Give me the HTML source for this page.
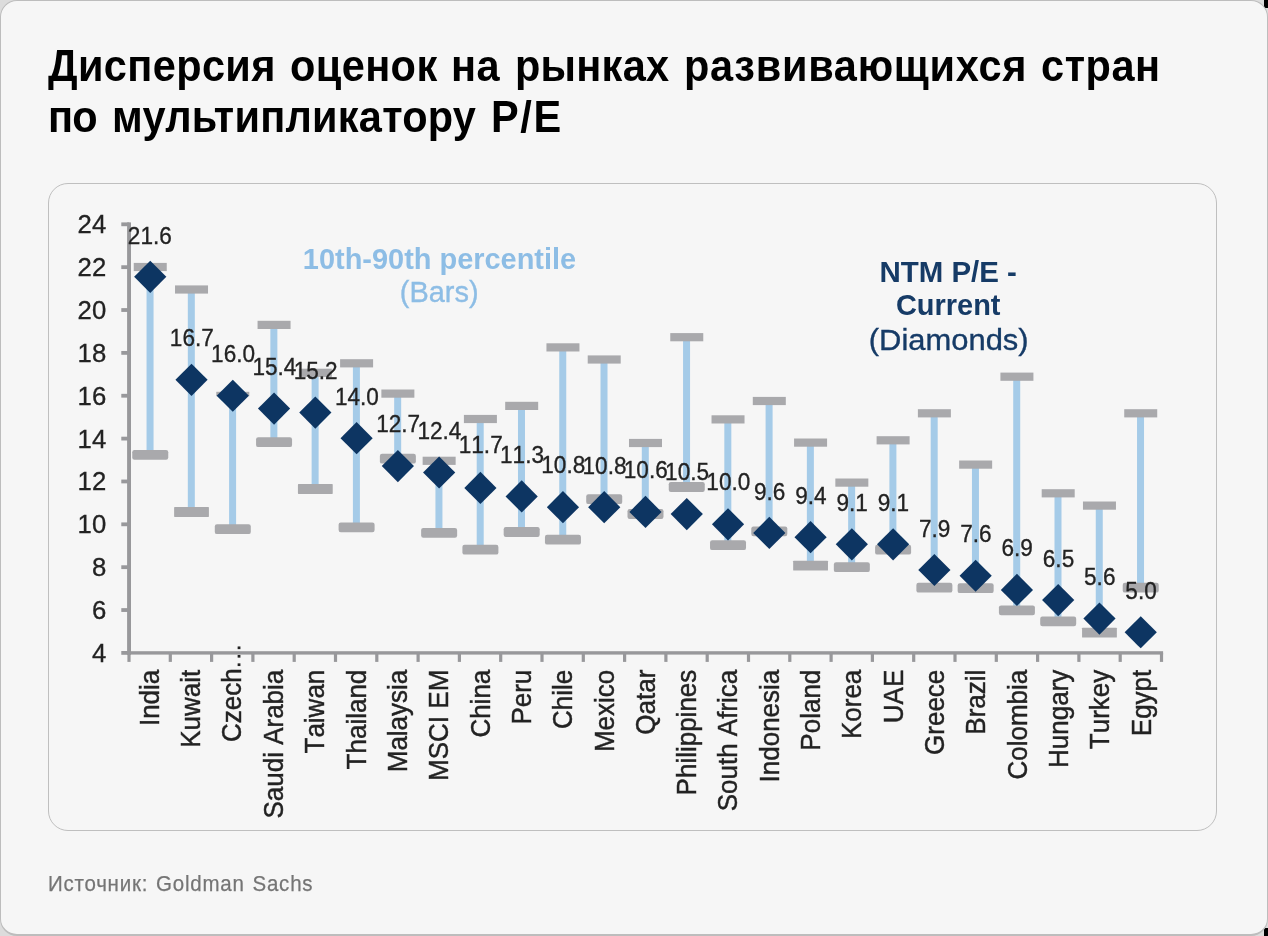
<!DOCTYPE html>
<html><head><meta charset="utf-8"><title>chart</title>
<style>
html,body{margin:0;padding:0;}
body{width:1268px;height:936px;background:#dcdcdc;position:relative;overflow:hidden;font-family:"Liberation Sans",sans-serif;}
.blk{position:absolute;background:#000;}
.card{position:absolute;left:0;top:0;width:1268px;height:936px;box-sizing:border-box;border:1.5px solid #bdbdbd;border-width:1.2px 1.2px 2.4px 1.5px;border-radius:17px;background:#f6f6f6;}
.panel{position:absolute;left:48px;top:183px;width:1169px;height:648px;box-sizing:border-box;border:1px solid #bfbfbf;border-radius:20px;}
.title{position:absolute;top:0;filter:blur(0.4px);margin:0;font-weight:bold;color:#000;white-space:nowrap;transform-origin:0 0;}
.src{position:absolute;left:48px;filter:blur(0.35px);margin:0;color:#757575;white-space:nowrap;transform-origin:0 0;}
</style></head><body>
<div class="blk" style="left:1264px;top:0;width:4px;height:8px"></div>
<div class="blk" style="left:1264px;top:928px;width:4px;height:8px"></div>
<div class="card"></div>
<div class="panel"></div>
<div class="title" style="left:48.3px;top:39.6px;font-size:43.6px;line-height:52px;letter-spacing:0.401px;transform:scaleX(0.9518)">Дисперсия</div>
<div class="title" style="left:289.6px;top:39.6px;font-size:43.6px;line-height:52px;letter-spacing:0.429px;transform:scaleX(0.9518)">оценок</div>
<div class="title" style="left:451px;top:39.6px;font-size:43.6px;line-height:52px;letter-spacing:0.351px;transform:scaleX(0.9518)">на</div>
<div class="title" style="left:515.2px;top:39.6px;font-size:43.6px;line-height:52px;letter-spacing:0.271px;transform:scaleX(0.9518)">рынках</div>
<div class="title" style="left:684.4px;top:39.6px;font-size:43.6px;line-height:52px;letter-spacing:0.759px;transform:scaleX(0.9518)">развивающихся</div>
<div class="title" style="left:1040.7px;top:39.6px;font-size:43.6px;line-height:52px;letter-spacing:0.595px;transform:scaleX(0.9518)">стран</div>
<div class="title" style="left:48.1px;top:90.8px;font-size:43.6px;line-height:52px;letter-spacing:-0.840px;transform:scaleX(0.9518)">по</div>
<div class="title" style="left:111.7px;top:90.8px;font-size:43.6px;line-height:52px;letter-spacing:0.257px;transform:scaleX(0.9518)">мультипликатору</div>
<div class="title" style="left:491.3px;top:90.8px;font-size:43.6px;line-height:52px;letter-spacing:1.676px;transform:scaleX(0.9518)">P/E</div>
<div class="src" id="src" style="top:871.6px;font-size:22px;line-height:24px;letter-spacing:0.82px;word-spacing:1.6px;-webkit-text-stroke:0.25px #757575;transform:scaleX(0.9318)">Источник: Goldman Sachs</div>
<svg width="1268" height="936" viewBox="0 0 1268 936" style="position:absolute;left:0;top:0;font-kerning:none" font-family="Liberation Sans, sans-serif">
<defs><filter id="b" x="-5%" y="-5%" width="110%" height="110%"><feGaussianBlur stdDeviation="0.75"/></filter></defs>
<g filter="url(#b)">
<rect x="127.1" y="222.4" width="3.9" height="432.4000000000001" fill="#98989b"/>
<rect x="127.1" y="651.2" width="1036.0" height="3.4" fill="#98989b"/>
<rect x="121.3" y="651.00" width="8" height="3.8" fill="#98989b"/>
<rect x="121.3" y="608.14" width="8" height="3.8" fill="#98989b"/>
<rect x="121.3" y="565.28" width="8" height="3.8" fill="#98989b"/>
<rect x="121.3" y="522.42" width="8" height="3.8" fill="#98989b"/>
<rect x="121.3" y="479.56" width="8" height="3.8" fill="#98989b"/>
<rect x="121.3" y="436.70" width="8" height="3.8" fill="#98989b"/>
<rect x="121.3" y="393.84" width="8" height="3.8" fill="#98989b"/>
<rect x="121.3" y="350.98" width="8" height="3.8" fill="#98989b"/>
<rect x="121.3" y="308.12" width="8" height="3.8" fill="#98989b"/>
<rect x="121.3" y="265.26" width="8" height="3.8" fill="#98989b"/>
<rect x="121.3" y="222.40" width="8" height="3.8" fill="#98989b"/>
<rect x="127.40" y="652.90" width="3.2" height="9" fill="#98989b"/>
<rect x="168.70" y="652.90" width="3.2" height="9" fill="#98989b"/>
<rect x="210.00" y="652.90" width="3.2" height="9" fill="#98989b"/>
<rect x="251.30" y="652.90" width="3.2" height="9" fill="#98989b"/>
<rect x="292.60" y="652.90" width="3.2" height="9" fill="#98989b"/>
<rect x="333.90" y="652.90" width="3.2" height="9" fill="#98989b"/>
<rect x="375.20" y="652.90" width="3.2" height="9" fill="#98989b"/>
<rect x="416.50" y="652.90" width="3.2" height="9" fill="#98989b"/>
<rect x="457.80" y="652.90" width="3.2" height="9" fill="#98989b"/>
<rect x="499.10" y="652.90" width="3.2" height="9" fill="#98989b"/>
<rect x="540.40" y="652.90" width="3.2" height="9" fill="#98989b"/>
<rect x="581.70" y="652.90" width="3.2" height="9" fill="#98989b"/>
<rect x="623.00" y="652.90" width="3.2" height="9" fill="#98989b"/>
<rect x="664.30" y="652.90" width="3.2" height="9" fill="#98989b"/>
<rect x="705.60" y="652.90" width="3.2" height="9" fill="#98989b"/>
<rect x="746.90" y="652.90" width="3.2" height="9" fill="#98989b"/>
<rect x="788.20" y="652.90" width="3.2" height="9" fill="#98989b"/>
<rect x="829.50" y="652.90" width="3.2" height="9" fill="#98989b"/>
<rect x="870.80" y="652.90" width="3.2" height="9" fill="#98989b"/>
<rect x="912.10" y="652.90" width="3.2" height="9" fill="#98989b"/>
<rect x="953.40" y="652.90" width="3.2" height="9" fill="#98989b"/>
<rect x="994.70" y="652.90" width="3.2" height="9" fill="#98989b"/>
<rect x="1036.00" y="652.90" width="3.2" height="9" fill="#98989b"/>
<rect x="1077.30" y="652.90" width="3.2" height="9" fill="#98989b"/>
<rect x="1118.60" y="652.90" width="3.2" height="9" fill="#98989b"/>
<rect x="1159.90" y="652.90" width="3.2" height="9" fill="#98989b"/>
<text transform="translate(106.2 661.80) scale(1.05 1.06)" font-size="24.5" text-anchor="end" fill="#222222" stroke="#222222" stroke-width="0.3">4</text>
<text transform="translate(106.2 618.94) scale(1.05 1.06)" font-size="24.5" text-anchor="end" fill="#222222" stroke="#222222" stroke-width="0.3">6</text>
<text transform="translate(106.2 576.08) scale(1.05 1.06)" font-size="24.5" text-anchor="end" fill="#222222" stroke="#222222" stroke-width="0.3">8</text>
<text transform="translate(106.2 533.22) scale(1.05 1.06)" font-size="24.5" text-anchor="end" fill="#222222" stroke="#222222" stroke-width="0.3">10</text>
<text transform="translate(106.2 490.36) scale(1.05 1.06)" font-size="24.5" text-anchor="end" fill="#222222" stroke="#222222" stroke-width="0.3">12</text>
<text transform="translate(106.2 447.50) scale(1.05 1.06)" font-size="24.5" text-anchor="end" fill="#222222" stroke="#222222" stroke-width="0.3">14</text>
<text transform="translate(106.2 404.64) scale(1.05 1.06)" font-size="24.5" text-anchor="end" fill="#222222" stroke="#222222" stroke-width="0.3">16</text>
<text transform="translate(106.2 361.78) scale(1.05 1.06)" font-size="24.5" text-anchor="end" fill="#222222" stroke="#222222" stroke-width="0.3">18</text>
<text transform="translate(106.2 318.92) scale(1.05 1.06)" font-size="24.5" text-anchor="end" fill="#222222" stroke="#222222" stroke-width="0.3">20</text>
<text transform="translate(106.2 276.06) scale(1.05 1.06)" font-size="24.5" text-anchor="end" fill="#222222" stroke="#222222" stroke-width="0.3">22</text>
<text transform="translate(106.2 233.20) scale(1.05 1.06)" font-size="24.5" text-anchor="end" fill="#222222" stroke="#222222" stroke-width="0.3">24</text>
<rect x="146.55" y="267.00" width="7.0" height="187.90" fill="#a5cbe8"/>
<rect x="187.82" y="289.50" width="7.0" height="222.50" fill="#a5cbe8"/>
<rect x="229.09" y="394.00" width="7.0" height="135.20" fill="#a5cbe8"/>
<rect x="270.36" y="324.90" width="7.0" height="117.30" fill="#a5cbe8"/>
<rect x="311.63" y="372.80" width="7.0" height="116.20" fill="#a5cbe8"/>
<rect x="352.90" y="363.30" width="7.0" height="164.10" fill="#a5cbe8"/>
<rect x="394.17" y="393.60" width="7.0" height="65.10" fill="#a5cbe8"/>
<rect x="435.44" y="460.80" width="7.0" height="72.00" fill="#a5cbe8"/>
<rect x="476.71" y="419.00" width="7.0" height="130.70" fill="#a5cbe8"/>
<rect x="517.98" y="405.90" width="7.0" height="126.10" fill="#a5cbe8"/>
<rect x="559.25" y="347.40" width="7.0" height="192.30" fill="#a5cbe8"/>
<rect x="600.52" y="359.50" width="7.0" height="139.70" fill="#a5cbe8"/>
<rect x="641.79" y="443.00" width="7.0" height="71.00" fill="#a5cbe8"/>
<rect x="683.06" y="337.20" width="7.0" height="149.80" fill="#a5cbe8"/>
<rect x="724.33" y="419.40" width="7.0" height="125.80" fill="#a5cbe8"/>
<rect x="765.60" y="401.00" width="7.0" height="130.30" fill="#a5cbe8"/>
<rect x="806.87" y="442.60" width="7.0" height="123.00" fill="#a5cbe8"/>
<rect x="848.14" y="482.60" width="7.0" height="84.60" fill="#a5cbe8"/>
<rect x="889.41" y="440.30" width="7.0" height="109.40" fill="#a5cbe8"/>
<rect x="930.68" y="413.30" width="7.0" height="174.40" fill="#a5cbe8"/>
<rect x="971.95" y="464.60" width="7.0" height="123.60" fill="#a5cbe8"/>
<rect x="1013.22" y="376.70" width="7.0" height="233.60" fill="#a5cbe8"/>
<rect x="1054.49" y="493.30" width="7.0" height="128.10" fill="#a5cbe8"/>
<rect x="1095.76" y="505.60" width="7.0" height="127.00" fill="#a5cbe8"/>
<rect x="1137.03" y="413.30" width="7.0" height="174.40" fill="#a5cbe8"/>
<rect x="133.75" y="262.90" width="33" height="8.2" fill="#a9a9ac"/>
<rect x="132.25" y="450.00" width="36" height="9.8" rx="2.2" fill="#a9a9ac"/>
<rect x="175.02" y="285.40" width="33" height="8.2" fill="#a9a9ac"/>
<rect x="174.12" y="507.10" width="34.8" height="9.8" rx="0.6" fill="#a9a9ac"/>
<rect x="216.29" y="391.80" width="33" height="4.4" fill="#a9a9ac"/>
<rect x="214.79" y="524.30" width="36" height="9.8" rx="2.2" fill="#a9a9ac"/>
<rect x="257.56" y="320.80" width="33" height="8.2" fill="#a9a9ac"/>
<rect x="256.06" y="437.30" width="36" height="9.8" rx="2.2" fill="#a9a9ac"/>
<rect x="298.83" y="368.70" width="33" height="8.2" fill="#a9a9ac"/>
<rect x="297.93" y="484.10" width="34.8" height="9.8" rx="0.6" fill="#a9a9ac"/>
<rect x="340.10" y="359.20" width="33" height="8.2" fill="#a9a9ac"/>
<rect x="338.60" y="522.50" width="36" height="9.8" rx="2.2" fill="#a9a9ac"/>
<rect x="381.37" y="389.50" width="33" height="8.2" fill="#a9a9ac"/>
<rect x="379.87" y="453.80" width="36" height="9.8" rx="2.2" fill="#a9a9ac"/>
<rect x="422.64" y="456.70" width="33" height="8.2" fill="#a9a9ac"/>
<rect x="421.14" y="527.90" width="36" height="9.8" rx="2.2" fill="#a9a9ac"/>
<rect x="463.91" y="414.90" width="33" height="8.2" fill="#a9a9ac"/>
<rect x="462.41" y="544.80" width="36" height="9.8" rx="2.2" fill="#a9a9ac"/>
<rect x="505.18" y="401.80" width="33" height="8.2" fill="#a9a9ac"/>
<rect x="503.68" y="527.10" width="36" height="9.8" rx="2.2" fill="#a9a9ac"/>
<rect x="546.45" y="343.30" width="33" height="8.2" fill="#a9a9ac"/>
<rect x="544.95" y="534.80" width="36" height="9.8" rx="2.2" fill="#a9a9ac"/>
<rect x="587.72" y="355.40" width="33" height="8.2" fill="#a9a9ac"/>
<rect x="586.22" y="494.30" width="36" height="9.8" rx="2.2" fill="#a9a9ac"/>
<rect x="628.99" y="438.90" width="33" height="8.2" fill="#a9a9ac"/>
<rect x="627.49" y="509.10" width="36" height="9.8" rx="2.2" fill="#a9a9ac"/>
<rect x="670.26" y="333.10" width="33" height="8.2" fill="#a9a9ac"/>
<rect x="668.76" y="482.10" width="36" height="9.8" rx="2.2" fill="#a9a9ac"/>
<rect x="711.53" y="415.30" width="33" height="8.2" fill="#a9a9ac"/>
<rect x="710.03" y="540.30" width="36" height="9.8" rx="2.2" fill="#a9a9ac"/>
<rect x="752.80" y="396.90" width="33" height="8.2" fill="#a9a9ac"/>
<rect x="751.30" y="526.40" width="36" height="9.8" rx="2.2" fill="#a9a9ac"/>
<rect x="794.07" y="438.50" width="33" height="8.2" fill="#a9a9ac"/>
<rect x="793.17" y="560.70" width="34.8" height="9.8" rx="0.6" fill="#a9a9ac"/>
<rect x="835.34" y="478.50" width="33" height="8.2" fill="#a9a9ac"/>
<rect x="833.84" y="562.30" width="36" height="9.8" rx="2.2" fill="#a9a9ac"/>
<rect x="876.61" y="436.20" width="33" height="8.2" fill="#a9a9ac"/>
<rect x="875.11" y="544.80" width="36" height="9.8" rx="2.2" fill="#a9a9ac"/>
<rect x="917.88" y="409.20" width="33" height="8.2" fill="#a9a9ac"/>
<rect x="916.38" y="582.80" width="36" height="9.8" rx="2.2" fill="#a9a9ac"/>
<rect x="959.15" y="460.50" width="33" height="8.2" fill="#a9a9ac"/>
<rect x="957.65" y="583.30" width="36" height="9.8" rx="2.2" fill="#a9a9ac"/>
<rect x="1000.42" y="372.60" width="33" height="8.2" fill="#a9a9ac"/>
<rect x="998.92" y="605.40" width="36" height="9.8" rx="2.2" fill="#a9a9ac"/>
<rect x="1041.69" y="489.20" width="33" height="8.2" fill="#a9a9ac"/>
<rect x="1040.19" y="616.50" width="36" height="9.8" rx="2.2" fill="#a9a9ac"/>
<rect x="1082.96" y="501.50" width="33" height="8.2" fill="#a9a9ac"/>
<rect x="1082.06" y="627.70" width="34.8" height="9.8" rx="0.6" fill="#a9a9ac"/>
<rect x="1124.23" y="409.20" width="33" height="8.2" fill="#a9a9ac"/>
<rect x="1122.73" y="582.80" width="36" height="9.8" rx="2.2" fill="#a9a9ac"/>
<path d="M150.25 260.70L166.35 276.80L150.25 292.90L134.15 276.80Z" fill="#0c3562"/>
<path d="M191.52 363.70L207.62 379.80L191.52 395.90L175.42 379.80Z" fill="#0c3562"/>
<path d="M232.79 379.64L248.89 395.74L232.79 411.84L216.69 395.74Z" fill="#0c3562"/>
<path d="M274.06 392.50L290.16 408.60L274.06 424.70L257.96 408.60Z" fill="#0c3562"/>
<path d="M315.33 396.48L331.43 412.58L315.33 428.68L299.23 412.58Z" fill="#0c3562"/>
<path d="M356.60 422.10L372.70 438.20L356.60 454.30L340.50 438.20Z" fill="#0c3562"/>
<path d="M397.87 449.96L413.97 466.06L397.87 482.16L381.77 466.06Z" fill="#0c3562"/>
<path d="M439.14 456.39L455.24 472.49L439.14 488.59L423.04 472.49Z" fill="#0c3562"/>
<path d="M480.41 471.79L496.51 487.89L480.41 503.99L464.31 487.89Z" fill="#0c3562"/>
<path d="M521.68 480.36L537.78 496.46L521.68 512.56L505.58 496.46Z" fill="#0c3562"/>
<path d="M562.95 491.08L579.05 507.18L562.95 523.28L546.85 507.18Z" fill="#0c3562"/>
<path d="M604.22 491.08L620.32 507.18L604.22 523.28L588.12 507.18Z" fill="#0c3562"/>
<path d="M645.49 495.86L661.59 511.96L645.49 528.06L629.39 511.96Z" fill="#0c3562"/>
<path d="M686.76 498.00L702.86 514.11L686.76 530.21L670.66 514.11Z" fill="#0c3562"/>
<path d="M728.03 508.22L744.13 524.32L728.03 540.42L711.93 524.32Z" fill="#0c3562"/>
<path d="M769.30 516.79L785.40 532.89L769.30 548.99L753.20 532.89Z" fill="#0c3562"/>
<path d="M810.57 521.08L826.67 537.18L810.57 553.28L794.47 537.18Z" fill="#0c3562"/>
<path d="M851.84 528.21L867.94 544.31L851.84 560.41L835.74 544.31Z" fill="#0c3562"/>
<path d="M893.11 528.21L909.21 544.31L893.11 560.41L877.01 544.31Z" fill="#0c3562"/>
<path d="M934.38 553.92L950.48 570.02L934.38 586.12L918.28 570.02Z" fill="#0c3562"/>
<path d="M975.65 559.65L991.75 575.75L975.65 591.85L959.55 575.75Z" fill="#0c3562"/>
<path d="M1016.92 573.85L1033.02 589.95L1016.92 606.05L1000.82 589.95Z" fill="#0c3562"/>
<path d="M1058.19 583.93L1074.29 600.03L1058.19 616.13L1042.09 600.03Z" fill="#0c3562"/>
<path d="M1099.46 602.51L1115.56 618.61L1099.46 634.71L1083.36 618.61Z" fill="#0c3562"/>
<path d="M1140.73 616.17L1156.83 632.27L1140.73 648.37L1124.63 632.27Z" fill="#0c3562"/>
<text transform="translate(149.85 243.70) scale(1 1.085)" font-size="22.6" stroke="#222222" stroke-width="0.3" text-anchor="middle" fill="#222222">21.6</text>
<text transform="translate(191.82 346.40) scale(1 1.085)" font-size="22.6" stroke="#222222" stroke-width="0.3" text-anchor="middle" fill="#222222">16.7</text>
<text transform="translate(233.09 362.14) scale(1 1.085)" font-size="22.6" stroke="#222222" stroke-width="0.3" text-anchor="middle" fill="#222222">16.0</text>
<text transform="translate(274.36 375.40) scale(1 1.085)" font-size="22.6" stroke="#222222" stroke-width="0.3" text-anchor="middle" fill="#222222">15.4</text>
<text transform="translate(315.63 379.48) scale(1 1.085)" font-size="22.6" stroke="#222222" stroke-width="0.3" text-anchor="middle" fill="#222222">15.2</text>
<text transform="translate(356.90 404.80) scale(1 1.085)" font-size="22.6" stroke="#222222" stroke-width="0.3" text-anchor="middle" fill="#222222">14.0</text>
<text transform="translate(398.17 432.06) scale(1 1.085)" font-size="22.6" stroke="#222222" stroke-width="0.3" text-anchor="middle" fill="#222222">12.7</text>
<text transform="translate(439.44 439.09) scale(1 1.085)" font-size="22.6" stroke="#222222" stroke-width="0.3" text-anchor="middle" fill="#222222">12.4</text>
<text transform="translate(480.71 452.99) scale(1 1.085)" font-size="22.6" stroke="#222222" stroke-width="0.3" text-anchor="middle" fill="#222222">11.7</text>
<text transform="translate(521.98 462.96) scale(1 1.085)" font-size="22.6" stroke="#222222" stroke-width="0.3" text-anchor="middle" fill="#222222">11.3</text>
<text transform="translate(563.25 472.78) scale(1 1.085)" font-size="22.6" stroke="#222222" stroke-width="0.3" text-anchor="middle" fill="#222222">10.8</text>
<text transform="translate(604.52 474.48) scale(1 1.085)" font-size="22.6" stroke="#222222" stroke-width="0.3" text-anchor="middle" fill="#222222">10.8</text>
<text transform="translate(645.79 478.06) scale(1 1.085)" font-size="22.6" stroke="#222222" stroke-width="0.3" text-anchor="middle" fill="#222222">10.6</text>
<text transform="translate(687.06 480.31) scale(1 1.085)" font-size="22.6" stroke="#222222" stroke-width="0.3" text-anchor="middle" fill="#222222">10.5</text>
<text transform="translate(728.33 490.32) scale(1 1.085)" font-size="22.6" stroke="#222222" stroke-width="0.3" text-anchor="middle" fill="#222222">10.0</text>
<text transform="translate(769.60 499.79) scale(1 1.085)" font-size="22.6" stroke="#222222" stroke-width="0.3" text-anchor="middle" fill="#222222">9.6</text>
<text transform="translate(810.87 503.58) scale(1 1.085)" font-size="22.6" stroke="#222222" stroke-width="0.3" text-anchor="middle" fill="#222222">9.4</text>
<text transform="translate(852.14 510.91) scale(1 1.085)" font-size="22.6" stroke="#222222" stroke-width="0.3" text-anchor="middle" fill="#222222">9.1</text>
<text transform="translate(893.41 510.91) scale(1 1.085)" font-size="22.6" stroke="#222222" stroke-width="0.3" text-anchor="middle" fill="#222222">9.1</text>
<text transform="translate(934.68 536.52) scale(1 1.085)" font-size="22.6" stroke="#222222" stroke-width="0.3" text-anchor="middle" fill="#222222">7.9</text>
<text transform="translate(975.95 542.15) scale(1 1.085)" font-size="22.6" stroke="#222222" stroke-width="0.3" text-anchor="middle" fill="#222222">7.6</text>
<text transform="translate(1017.22 556.15) scale(1 1.085)" font-size="22.6" stroke="#222222" stroke-width="0.3" text-anchor="middle" fill="#222222">6.9</text>
<text transform="translate(1058.49 566.53) scale(1 1.085)" font-size="22.6" stroke="#222222" stroke-width="0.3" text-anchor="middle" fill="#222222">6.5</text>
<text transform="translate(1099.76 585.01) scale(1 1.085)" font-size="22.6" stroke="#222222" stroke-width="0.3" text-anchor="middle" fill="#222222">5.6</text>
<text transform="translate(1141.03 598.77) scale(1 1.085)" font-size="22.6" stroke="#222222" stroke-width="0.3" text-anchor="middle" fill="#222222">5.0</text>
<text transform="translate(159.00 669.7) scale(1.04 1) rotate(-90)" font-size="26.0" text-anchor="end" fill="#222222" stroke="#222222" stroke-width="0.42">India</text>
<text transform="translate(200.32 669.7) scale(1.04 1) rotate(-90)" font-size="26.0" text-anchor="end" fill="#222222" stroke="#222222" stroke-width="0.42">Kuwait</text>
<rect x="237.64" y="646.45" width="2.8" height="2.7" fill="#222222"/>
<rect x="237.64" y="654.95" width="2.8" height="2.7" fill="#222222"/>
<rect x="237.64" y="663.35" width="2.8" height="2.7" fill="#222222"/>
<text transform="translate(240.74 668.3) scale(1.04 1) rotate(-90)" font-size="26.0" text-anchor="end" fill="#222222" stroke="#222222" stroke-width="0.42">Czech</text>
<text transform="translate(282.96 669.7) scale(1.04 1) rotate(-90)" font-size="26.0" text-anchor="end" fill="#222222" stroke="#222222" stroke-width="0.42">Saudi Arabia</text>
<text transform="translate(324.28 669.7) scale(1.04 1) rotate(-90)" font-size="26.0" text-anchor="end" fill="#222222" stroke="#222222" stroke-width="0.42">Taiwan</text>
<text transform="translate(365.60 669.7) scale(1.04 1) rotate(-90)" font-size="26.0" text-anchor="end" fill="#222222" stroke="#222222" stroke-width="0.42">Thailand</text>
<text transform="translate(406.92 669.7) scale(1.04 1) rotate(-90)" font-size="26.0" text-anchor="end" fill="#222222" stroke="#222222" stroke-width="0.42">Malaysia</text>
<text transform="translate(448.24 669.7) scale(1.04 1) rotate(-90)" font-size="26.0" text-anchor="end" fill="#222222" stroke="#222222" stroke-width="0.42">MSCI EM</text>
<text transform="translate(489.56 669.7) scale(1.04 1) rotate(-90)" font-size="26.0" text-anchor="end" fill="#222222" stroke="#222222" stroke-width="0.42">China</text>
<text transform="translate(530.88 669.7) scale(1.04 1) rotate(-90)" font-size="26.0" text-anchor="end" fill="#222222" stroke="#222222" stroke-width="0.42">Peru</text>
<text transform="translate(572.20 669.7) scale(1.04 1) rotate(-90)" font-size="26.0" text-anchor="end" fill="#222222" stroke="#222222" stroke-width="0.42">Chile</text>
<text transform="translate(613.52 669.7) scale(1.04 1) rotate(-90)" font-size="26.0" text-anchor="end" fill="#222222" stroke="#222222" stroke-width="0.42">Mexico</text>
<text transform="translate(654.84 669.7) scale(1.04 1) rotate(-90)" font-size="26.0" text-anchor="end" fill="#222222" stroke="#222222" stroke-width="0.42">Qatar</text>
<text transform="translate(696.16 669.7) scale(1.04 1) rotate(-90)" font-size="26.0" text-anchor="end" fill="#222222" stroke="#222222" stroke-width="0.42">Philippines</text>
<text transform="translate(737.48 669.7) scale(1.04 1) rotate(-90)" font-size="26.0" text-anchor="end" fill="#222222" stroke="#222222" stroke-width="0.42">South Africa</text>
<text transform="translate(778.80 669.7) scale(1.04 1) rotate(-90)" font-size="26.0" text-anchor="end" fill="#222222" stroke="#222222" stroke-width="0.42">Indonesia</text>
<text transform="translate(820.12 669.7) scale(1.04 1) rotate(-90)" font-size="26.0" text-anchor="end" fill="#222222" stroke="#222222" stroke-width="0.42">Poland</text>
<text transform="translate(861.44 669.7) scale(1.04 1) rotate(-90)" font-size="26.0" text-anchor="end" fill="#222222" stroke="#222222" stroke-width="0.42">Korea</text>
<text transform="translate(902.76 669.7) scale(1.04 1) rotate(-90)" font-size="26.0" text-anchor="end" fill="#222222" stroke="#222222" stroke-width="0.42">UAE</text>
<text transform="translate(944.08 669.7) scale(1.04 1) rotate(-90)" font-size="26.0" text-anchor="end" fill="#222222" stroke="#222222" stroke-width="0.42">Greece</text>
<text transform="translate(985.40 669.7) scale(1.04 1) rotate(-90)" font-size="26.0" text-anchor="end" fill="#222222" stroke="#222222" stroke-width="0.42">Brazil</text>
<text transform="translate(1026.72 669.7) scale(1.04 1) rotate(-90)" font-size="26.0" text-anchor="end" fill="#222222" stroke="#222222" stroke-width="0.42">Colombia</text>
<text transform="translate(1068.04 669.7) scale(1.04 1) rotate(-90)" font-size="26.0" text-anchor="end" fill="#222222" stroke="#222222" stroke-width="0.42">Hungary</text>
<text transform="translate(1109.36 669.7) scale(1.04 1) rotate(-90)" font-size="26.0" text-anchor="end" fill="#222222" stroke="#222222" stroke-width="0.42">Turkey</text>
<text transform="translate(1150.68 669.7) scale(1.04 1) rotate(-90)" font-size="26.0" text-anchor="end" fill="#222222" stroke="#222222" stroke-width="0.42">Egypt</text>
<text transform="translate(439.5 269.3) scale(1.045 1.05)" font-size="27.7" font-weight="bold" text-anchor="middle" fill="#8dbde5">10th-90th percentile</text>
<text transform="translate(439.2 302) scale(1.045 1.045)" stroke="#8dbde5" stroke-width="0.35" font-size="27.7" text-anchor="middle" fill="#8dbde5">(Bars)</text>
<text transform="translate(948.2 281.5) scale(1.045 1.045)" font-size="28.2" font-weight="bold" text-anchor="middle" fill="#143a66">NTM P/E -</text>
<text transform="translate(948.2 315.4) scale(1.045 1.05)" font-size="27.7" font-weight="bold" text-anchor="middle" fill="#143a66">Current</text>
<text transform="translate(948.7 349.7) scale(1.045 0.97)" stroke="#143a66" stroke-width="0.35" font-size="29.6" text-anchor="middle" fill="#143a66">(Diamonds)</text>
</g></svg>
</body></html>
